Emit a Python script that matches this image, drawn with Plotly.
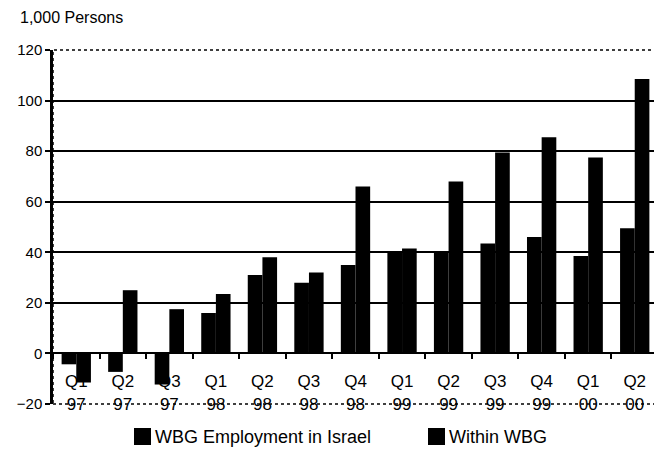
import plotly.graph_objects as go

quarters = ["Q1<br>97", "Q2<br>97", "Q3<br>97", "Q1<br>98", "Q2<br>98", "Q3<br>98", "Q4<br>98",
            "Q1<br>99", "Q2<br>99", "Q3<br>99", "Q4<br>99", "Q1<br>00", "Q2<br>00"]
employment_in_israel = [-4.3, -7.3, -12.3, 16, 31, 28, 35, 40.5, 40.3, 43.5, 46, 38.5, 49.5]
within_wbg = [-11.5, 25, 17.5, 23.5, 38, 32, 66, 41.5, 68, 79.5, 85.5, 77.5, 108.5]
series_names = ["WBG Employment in Israel", "Within WBG"]

font = "Liberation Sans, Arial, sans-serif"

fig = go.Figure()
fig.add_trace(go.Bar(x=quarters, y=employment_in_israel, name=series_names[0],
                     marker_color="black", marker_line_width=0))
fig.add_trace(go.Bar(x=quarters, y=within_wbg, name=series_names[1],
                     marker_color="black", marker_line_width=0))

# page body has an 8px margin, so the figure is a bit smaller than the window
fig.update_layout(
    width=654, height=443,
    margin=dict(l=45, r=4, t=42, b=47),
    plot_bgcolor="white", paper_bgcolor="white",
    barmode="group", bargap=0.37, bargroupgap=0,
    font=dict(family=font, size=15, color="black"),
    showlegend=False,
)

fig.update_yaxes(
    range=[-20, 120], dtick=20, tickfont=dict(size=15), automargin=False,
    showgrid=True, gridcolor="black", gridwidth=2,
    zeroline=True, zerolinecolor="black", zerolinewidth=2,
    showline=True, linecolor="black", linewidth=2.5,
    ticks="outside", ticklen=5, tickwidth=1.5, tickcolor="black",
)
fig.update_xaxes(
    anchor="free", position=1 / 7, automargin=False,
    tickson="boundaries", ticks="outside", ticklen=5, tickwidth=1.5, tickcolor="black",
    showline=False, showgrid=False, tickfont=dict(size=17), ticklabelstandoff=16,
)

# dotted frame on the top, right and bottom
fig.add_shape(type="rect", xref="paper", yref="paper", x0=0, x1=1, y0=0, y1=1,
              line=dict(color="black", width=1.5, dash="dot"), layer="below")

fig.add_annotation(text="1,000 Persons", xref="paper", yref="paper",
                   x=-35 / 605, y=1 + 33 / 354, xanchor="left", yanchor="middle",
                   showarrow=False, font=dict(size=16))

# legend drawn by hand: big black squares followed by the series names
legend_x = [134, 428]
for px, name in zip(legend_x, series_names):
    fig.add_shape(type="rect", xref="paper", yref="paper",
                  x0=(px - 53) / 605, x1=(px + 17 - 53) / 605,
                  y0=(404 - 445) / 354, y1=(404 - 428) / 354,
                  fillcolor="black", line_width=0)
    fig.add_annotation(text=name, xref="paper", yref="paper",
                       x=(px + 19 - 53) / 605, y=(404 - 437) / 354,
                       xanchor="left", yanchor="middle", showarrow=False,
                       font=dict(size=18))

fig.write_html("out.html")
